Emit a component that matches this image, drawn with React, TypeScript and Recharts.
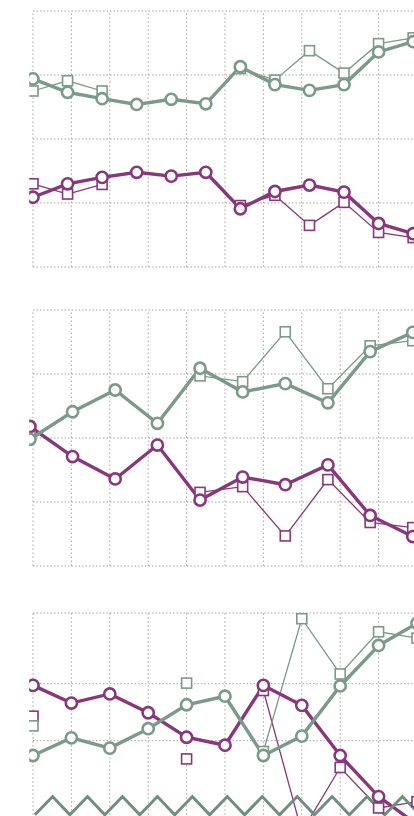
import { LineChart, Line, XAxis, YAxis, ReferenceLine } from "recharts";

// three stacked panels, cropped from a wider figure: two groups (green / purple),
// each with a thick circle series and a thin square series

const GREEN = "#7b9a8c";
const PURPLE = "#88387a";
const GRID = "#aaa2a2";

// x positions (shared grid ticks every 10 units)
const xTicks = [0, 10, 20, 30, 40, 50, 60, 70, 80, 90, 100];

// panel 1
const p1X = [0, 9, 18, 27, 36, 45, 54, 63, 72, 81, 90, 99];
const p1GreenCircle = [2.94, 2.73, 2.63, 2.54, 2.62, 2.55, 3.13, 2.85, 2.76, 2.85, 3.36, 3.52];
const p1GreenSquare = [2.75, 2.91, 2.75, null, null, null, 3.1, 2.92, 3.38, 3.03, 3.49, 3.58];
const p1PurpleCircle = [1.09, 1.3, 1.4, 1.48, 1.42, 1.48, 0.91, 1.18, 1.28, 1.17, 0.68, 0.52];
const p1PurpleSquare = [1.3, 1.14, 1.29, null, null, null, 0.96, 1.12, 0.65, 1.01, 0.54, 0.46];
const p1YTicks = [0, 1, 2, 3, 4];

// panel 2
const p2X = [-0.8, 10.3, 21.4, 32.4, 43.5, 54.6, 65.7, 76.8, 87.8, 98.9];
const p2GreenCircle = [1.98, 2.41, 2.75, 2.23, 3.09, 2.72, 2.85, 2.55, 3.35, 3.65];
const p2GreenSquare = [2.02, null, null, null, 2.97, 2.88, 3.66, 2.77, 3.44, 3.52];
const p2PurpleCircle = [2.18, 1.71, 1.36, 1.89, 1.03, 1.39, 1.27, 1.58, 0.79, 0.46];
const p2PurpleSquare = [2.1, null, null, null, 1.15, 1.24, 0.47, 1.35, 0.68, 0.6];
const p2YTicks = [0, 1, 2, 3, 4];

// panel 3
const p3X = [0, 10, 20, 30, 40, 50, 60, 70, 80, 90, 100];
const p3GreenCircle = [1.74, 2.05, 1.87, 2.21, 2.63, 2.78, 1.74, 2.08, 2.96, 3.67, 4.06];
const p3GreenSquare = [2.26, null, null, null, 3.01, null, 1.81, 4.14, 3.17, 3.91, 3.8];
const p3PurpleCircle = [2.97, 2.66, 2.82, 2.49, 2.06, 1.92, 2.97, 2.62, 1.74, 1.02, 0.53];
const p3PurpleSquare = [2.43, null, null, null, 1.68, null, 2.88, 0.4, 1.53, 0.82, 0.93];
const p3YTicks = [2, 3, 4.24];

// axis-break zigzag along the bottom of panel 3
const zigX = [0.5, 5.1, 9.6, 14.2, 18.7, 23.3, 27.8, 32.4, 36.9, 41.5, 46.0, 50.6, 55.1, 59.7, 64.2, 68.8, 73.3, 77.9, 82.4, 87.0, 91.6, 96.2, 100.8];
const zigY = [0.7, 1.02, 0.7, 1.02, 0.7, 1.02, 0.7, 1.02, 0.7, 1.02, 0.7, 1.02, 0.7, 1.02, 0.7, 1.02, 0.7, 1.02, 0.7, 1.02, 0.7, 1.02, 0.7];

type Row = { x: number; gc?: number | null; gs?: number | null; pc?: number | null; ps?: number | null; zig?: number | null };

function buildRows(xs: number[], gc: (number | null)[], gs: (number | null)[], pc: (number | null)[], ps: (number | null)[]): Row[] {
	return xs.map((x, i) => ({ x, gc: gc[i], gs: gs[i], pc: pc[i], ps: ps[i] }));
}

function squareDot(color: string) {
	return (props: any) => {
		const { cx, cy, index } = props;
		if (cx == null || cy == null || props.value == null) return <g key={`sq-${index}`} />;
		return (
			<rect
				key={`sq-${index}`}
				x={cx - 5}
				y={cy - 5}
				width={10}
				height={10}
				fill="#fff"
				stroke={color}
				strokeWidth={1.6}
			/>
		);
	};
}

const PX_PER_X = 3.84;
const MARGIN_LEFT = 33 - PX_PER_X; // x = -1 sits at the plot's left edge
const PLOT_W = PX_PER_X * 102;

function Panel({
	top,
	height,
	yMax,
	yTicks,
	rows,
	gridBottom,
}: {
	top: number;
	height: number;
	yMax: number;
	yTicks: number[];
	rows: Row[];
	gridBottom: number;
}) {
	const hasZig = rows.some((r) => r.zig != null);
	return (
		<div style={{ position: "absolute", left: 0, top: top - 10 }}>
			<LineChart
				width={MARGIN_LEFT + PLOT_W + 10}
				height={height + 20}
				data={rows}
				margin={{ top: 10, right: 10, bottom: 10, left: MARGIN_LEFT }}
			>
				<XAxis dataKey="x" type="number" domain={[-1, 101]} allowDataOverflow hide ticks={xTicks} />
				<YAxis type="number" domain={[0, yMax]} allowDataOverflow hide ticks={yTicks} />
				{xTicks.map((t) => (
					<ReferenceLine
						key={`vx-${t}`}
						segment={[
							{ x: t, y: gridBottom },
							{ x: t, y: yMax },
						]}
						stroke={GRID}
						strokeWidth={1}
						strokeDasharray="1.5 2.5"
					/>
				))}
				{yTicks.map((t) => (
					<ReferenceLine
						key={`hy-${t}`}
						segment={[
							{ x: 0, y: t },
							{ x: 101, y: t },
						]}
						stroke={GRID}
						strokeWidth={1}
						strokeDasharray="1.5 2"
					/>
				))}
				<Line
					dataKey="ps"
					type="linear"
					stroke={PURPLE}
					strokeWidth={1.3}
					dot={squareDot(PURPLE)}
					isAnimationActive={false}
				/>
				<Line
					dataKey="gs"
					type="linear"
					stroke={GREEN}
					strokeWidth={1.3}
					dot={squareDot(GREEN)}
					isAnimationActive={false}
				/>
				<Line
					dataKey="pc"
					type="linear"
					stroke={PURPLE}
					strokeWidth={3.4}
					dot={{ r: 5.6, fill: "#fff", stroke: PURPLE, strokeWidth: 2.6 }}
					isAnimationActive={false}
				/>
				<Line
					dataKey="gc"
					type="linear"
					stroke={GREEN}
					strokeWidth={3.4}
					dot={{ r: 5.6, fill: "#fff", stroke: GREEN, strokeWidth: 2.6 }}
					isAnimationActive={false}
				/>
				{hasZig && (
					<Line
						dataKey="zig"
						type="linear"
						stroke="#6e8e80"
						strokeWidth={3}
						dot={false}
						isAnimationActive={false}
					/>
				)}
			</LineChart>
		</div>
	);
}

export default function App() {
	const rows1 = buildRows(p1X, p1GreenCircle, p1GreenSquare, p1PurpleCircle, p1PurpleSquare);
	const rows2 = buildRows(p2X, p2GreenCircle, p2GreenSquare, p2PurpleCircle, p2PurpleSquare);
	const rows3: Row[] = [
		...buildRows(p3X, p3GreenCircle, p3GreenSquare, p3PurpleCircle, p3PurpleSquare),
		...zigX.map((x, i) => ({ x, zig: zigY[i] })),
	];

	return (
		<div
			style={{
				position: "absolute",
				left: 0,
				top: 0,
				width: 414,
				height: 816,
				overflow: "hidden",
				background: "#fff",
			}}
		>
			<Panel top={10.7} height={256} yMax={4} yTicks={p1YTicks} rows={rows1} gridBottom={0} />
			<Panel top={310} height={256} yMax={4} yTicks={p2YTicks} rows={rows2} gridBottom={0} />
			<Panel top={613.3} height={241.7} yMax={4.24} yTicks={p3YTicks} rows={rows3} gridBottom={0} />
		</div>
	);
}
